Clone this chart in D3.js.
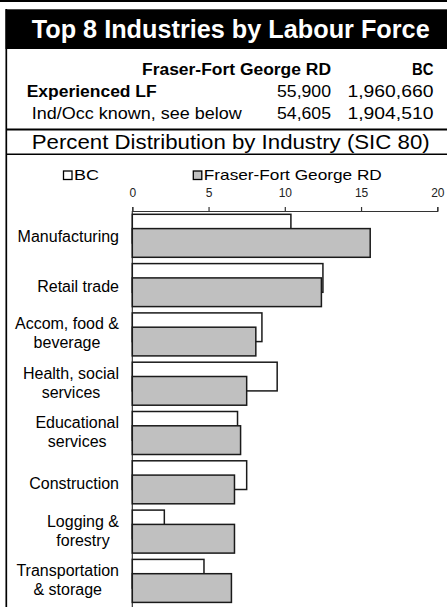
<!DOCTYPE html>
<html>
<head>
<meta charset="utf-8">
<script src="https://cdn.jsdelivr.net/npm/d3@7"></script>
<style>
  html, body { margin: 0; padding: 0; background: #fff; }
  svg { display: block; font-family: "Liberation Sans", Arial, sans-serif; }
</style>
</head>
<body>
<svg id="chart" width="447" height="607"></svg>
<script>
// ---------- data ----------
const title = "Top 8 Industries by Labour Force";
const tableColumns = ["Fraser-Fort George RD", "BC"];
const tableRowLabels = ["Experienced LF", "Ind/Occ known, see below"];
const tableFFG = ["55,900", "54,605"];
const tableBC = ["1,960,660", "1,904,510"];
const subtitle = "Percent Distribution by Industry (SIC 80)";
const seriesNames = ["BC", "Fraser-Fort George RD"];
const categories = ["Manufacturing", "Retail trade", "Accom, food & beverage", "Health, social services",
  "Educational services", "Construction", "Logging & forestry", "Transportation & storage"];
const categoryLines = [["Manufacturing"], ["Retail trade"], ["Accom, food &", "beverage"], ["Health, social", "services"],
  ["Educational", "services"], ["Construction"], ["Logging &", "forestry"], ["Transportation", "& storage"]];
const bcValues = [10.4, 12.5, 8.5, 9.5, 6.9, 7.5, 2.1, 4.7];
const ffgValues = [15.6, 12.4, 8.1, 7.5, 7.1, 6.7, 6.7, 6.5];
const tickValues = [0, 5, 10, 15, 20];

// ---------- drawing ----------
const svg = d3.select("#chart");
const W = 447;

// top rule
svg.append("line").attr("x1", 0).attr("x2", W).attr("y1", 1).attr("y2", 1)
  .attr("stroke", "#000").attr("stroke-width", 2);

// title band
svg.append("rect").attr("x", 5.5).attr("y", 9.3).attr("width", W - 5.5).attr("height", 39.7).attr("fill", "#000");
svg.append("text").attr("x", 31.7).attr("y", 37.5).attr("fill", "#fff")
  .attr("font-size", 25).attr("font-weight", "bold")
  .attr("textLength", 398).attr("lengthAdjust", "spacingAndGlyphs").text(title);

// left frame
svg.append("line").attr("x1", 6.3).attr("x2", 6.3).attr("y1", 9).attr("y2", 607)
  .attr("stroke", "#000").attr("stroke-width", 1.7);

// table
function stretchText(x, y, str, len, opts) {
  return svg.append("text").attr("x", x).attr("y", y).attr("font-size", opts.size || 16)
    .attr("font-weight", opts.bold ? "bold" : "normal").attr("fill", "#000")
    .attr("textLength", len).attr("lengthAdjust", "spacingAndGlyphs").text(str);
}
stretchText(142, 75, tableColumns[0], 189, {bold: true});
stretchText(412, 75, tableColumns[1], 21.5, {bold: true});
stretchText(26.7, 97, tableRowLabels[0], 130, {bold: true});
stretchText(31.7, 118.5, tableRowLabels[1], 210, {});
stretchText(277, 97, tableFFG[0], 54, {});
stretchText(277, 118.5, tableFFG[1], 54, {});
stretchText(347.5, 97, tableBC[0], 86, {});
stretchText(347.5, 118.5, tableBC[1], 86, {});

svg.append("line").attr("x1", 6).attr("x2", W).attr("y1", 129.5).attr("y2", 129.5)
  .attr("stroke", "#000").attr("stroke-width", 2);

stretchText(31.7, 149, subtitle, 398, {size: 21});

svg.append("line").attr("x1", 6).attr("x2", W).attr("y1", 154.3).attr("y2", 154.3)
  .attr("stroke", "#000").attr("stroke-width", 1.5);

// legend
const fills = ["#ffffff", "#c0c0c0"];
const legendX = [63.5, 193.3];
const legendTextLen = [25, 178];
seriesNames.forEach((name, i) => {
  svg.append("rect").attr("x", legendX[i]).attr("y", 171).attr("width", 8.5).attr("height", 8.5)
    .attr("fill", fills[i]).attr("stroke", "#000").attr("stroke-width", 1.3);
  stretchText(legendX[i] + 10.5, 180, name, legendTextLen[i], {size: 15});
});

// scales
const x = d3.scaleLinear().domain([0, 20]).range([132.3, 437.3]);
const step = 49.3;
const y = d3.scaleBand().domain(categories).range([214.3, 214.3 + step * categories.length]).padding(0);
const barH = 28.7, barOffset = 14.3;

// axis
const axisY = 211;
const axis = d3.axisTop(x).tickValues(tickValues).tickSize(4).tickSizeOuter(4).tickPadding(10)
  .tickFormat(d3.format("d"));
const ag = svg.append("g").attr("transform", `translate(0,${axisY})`).call(axis);
ag.selectAll("path, line").attr("stroke", "#333").attr("stroke-width", 1.2);
ag.selectAll("text").attr("font-size", 12).attr("fill", "#222")
  .attr("font-family", "\"Liberation Sans\", Arial, sans-serif");

svg.append("line").attr("x1", x(0)).attr("x2", x(0)).attr("y1", axisY).attr("y2", 607)
  .attr("stroke", "#333").attr("stroke-width", 1.2);

// bars
const rows = categories.map((c, i) => ({cat: c, bc: bcValues[i], ffg: ffgValues[i], lines: categoryLines[i]}));
svg.append("g").selectAll("rect").data(rows).join("rect")
  .attr("x", x(0)).attr("y", d => y(d.cat))
  .attr("width", d => x(d.bc) - x(0)).attr("height", barH)
  .attr("fill", fills[0]).attr("stroke", "#1a1a1a").attr("stroke-width", 1.5);
svg.append("g").selectAll("rect").data(rows).join("rect")
  .attr("x", x(0)).attr("y", d => y(d.cat) + barOffset)
  .attr("width", d => x(d.ffg) - x(0)).attr("height", barH)
  .attr("fill", fills[1]).attr("stroke", "#1a1a1a").attr("stroke-width", 1.5);

// category labels
const labelRight = 119;
rows.forEach(d => {
  const c = y(d.cat) + 21.5;
  const g = svg.append("g");
  const texts = d.lines.map((ln, j) => {
    const by = d.lines.length === 1 ? c + 6.5 : c - 5 + j * 19;
    return g.append("text").attr("y", by).attr("font-size", 16).attr("fill", "#000")
      .attr("text-anchor", "middle").text(ln);
  });
  const maxW = d3.max(texts, t => t.node().getComputedTextLength());
  texts.forEach(t => t.attr("x", labelRight - maxW / 2));
});
</script>
</body>
</html>
